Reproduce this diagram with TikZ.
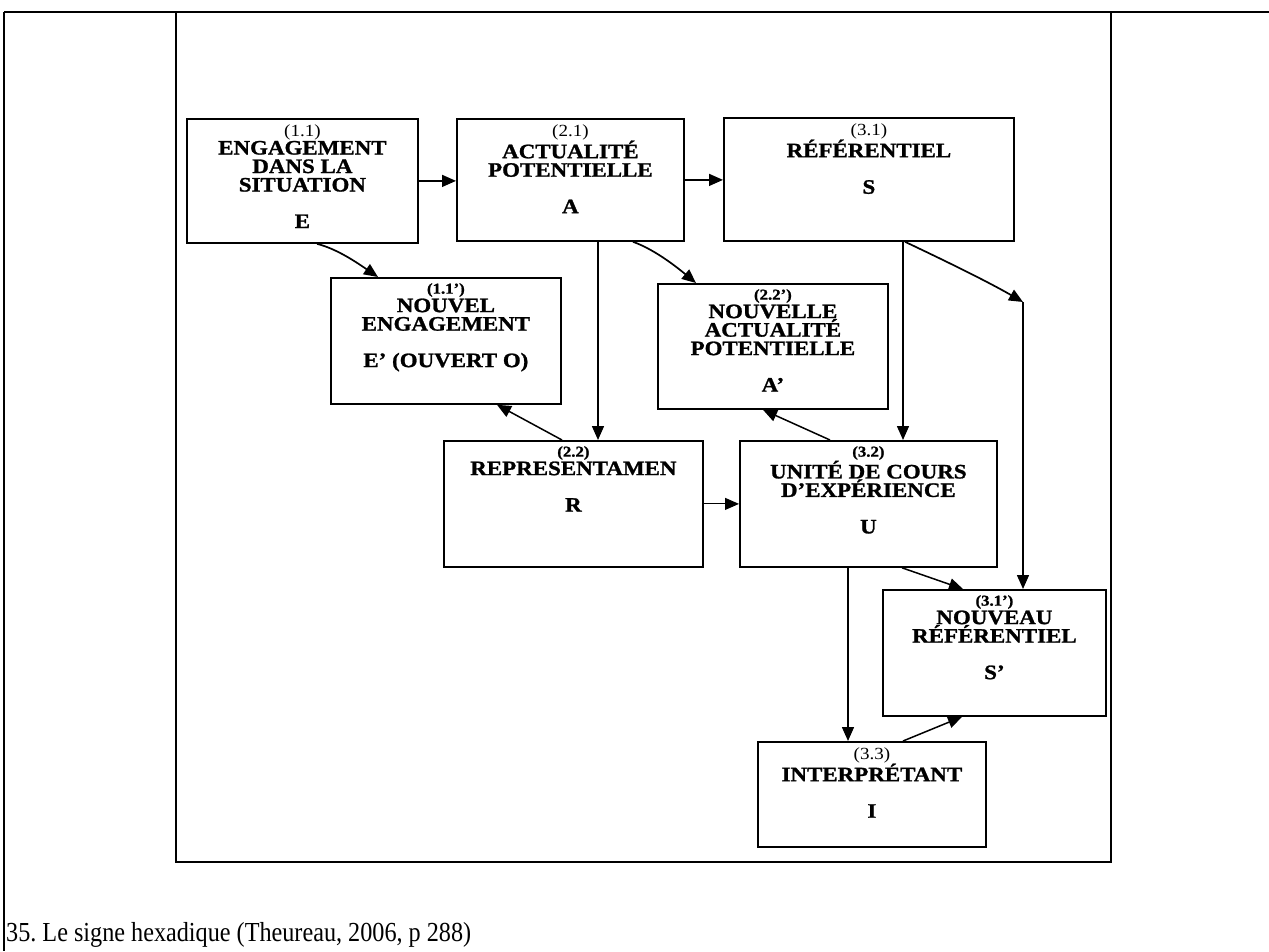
\documentclass[tikz,border=0pt]{standalone}
\usepackage{fontspec}
\setmainfont{Liberation Serif}
\newfontfamily\boxfont[FakeStretch=1.12, BoldFeatures={FakeBold=1.2}]{Liberation Serif}
\newfontfamily\capfont[FakeStretch=0.88]{Liberation Serif}
\usepackage{tikz}
\usetikzlibrary{arrows.meta}

\newcommand\regnum[1]{{\mdseries\fontsize{17}{18}\selectfont #1}}
\newcommand\boldnum[1]{{\fontsize{15}{18}\selectfont #1}}

\begin{document}
\begin{tikzpicture}[x=1pt, y=-1pt,
      sign/.style={draw, line width=1.8pt, inner sep=0pt, anchor=north west},
      lbl/.style={anchor=north, inner sep=0pt, align=center,
                  font=\boxfont\bfseries\fontsize{20.5}{18.5}\selectfont},
      arr/.style={-{Triangle[length=14pt, width=12pt]}, line width=1.5pt},
      wave/.style={arr, line width=1.7pt},
    ]
    \useasboundingbox (0,0) rectangle (1269,951);
    % ── cadre ──
    \draw[line width=2.5pt] (4,12) -- (1269,12);
    \draw[line width=1.5pt] (4,12) -- (4,951);
    \draw[line width=2.2pt] (176,12) rectangle (1111,862);
    % ── signes ──
    \node[sign, minimum width=231pt, minimum height=124pt] (E)  at (186,118) {};
    \node[sign, minimum width=227pt, minimum height=122pt] (A)  at (456,118) {};
    \node[sign, minimum width=290pt, minimum height=123pt] (S)  at (723,117) {};
    \node[sign, minimum width=230pt, minimum height=126pt] (Ep) at (330,277) {};
    \node[sign, minimum width=230pt, minimum height=125pt] (Ap) at (657,283) {};
    \node[sign, minimum width=259pt, minimum height=126pt] (R)  at (443,440) {};
    \node[sign, minimum width=257pt, minimum height=126pt] (U)  at (739,440) {};
    \node[sign, minimum width=223pt, minimum height=126pt] (Sp) at (882,589) {};
    \node[sign, minimum width=228pt, minimum height=105pt] (I)  at (757,741) {};
    % ── textes ──
    \node[lbl] (Et)  at ([yshift=-6pt]E.north)  {\regnum{(1.1)}\\ENGAGEMENT\\DANS LA\\SITUATION\\[18pt]E};
    \node[lbl] (At)  at ([yshift=-6pt]A.north)  {\regnum{(2.1)}\\ACTUALITÉ\\POTENTIELLE\\[18pt]A};
    \node[lbl] (St)  at ([yshift=-6pt]S.north)  {\regnum{(3.1)}\\RÉFÉRENTIEL\\[18pt]S};
    \node[lbl] (Ept) at ([yshift=-6pt]Ep.north) {\boldnum{(1.1’)}\\NOUVEL\\ENGAGEMENT\\[18pt]E’ (OUVERT O)};
    \node[lbl] (Apt) at ([yshift=-6pt]Ap.north) {\boldnum{(2.2’)}\\NOUVELLE\\ACTUALITÉ\\POTENTIELLE\\[18pt]A’};
    \node[lbl] (Rt)  at ([yshift=-6pt]R.north)  {\boldnum{(2.2)}\\REPRESENTAMEN\\[18pt]R};
    \node[lbl] (Ut)  at ([yshift=-6pt]U.north)  {\boldnum{(3.2)}\\UNITÉ DE COURS\\D’EXPÉRIENCE\\[18pt]U};
    \node[lbl] (Spt) at ([yshift=-6pt]Sp.north) {\boldnum{(3.1’)}\\NOUVEAU\\RÉFÉRENTIEL\\[18pt]S’};
    \node[lbl] (It)  at ([yshift=-6pt]I.north)  {\regnum{(3.3)}\\INTERPRÉTANT\\[18pt]I};
    % ── liaisons ──
    \draw[arr] (E.east) -- (E.east -| A.west);
    \draw[arr] (A.east) -- (A.east -| S.west);
    \draw[arr, line width=1pt] (R.east) -- (U.west);
    \draw[wave] (317,0 |- E.south) .. controls (337,249) and (356,262) .. (378,0 |- Ep.north);
    \draw[wave] (633,0 |- A.south) .. controls (653,249) and (673,264) .. (696,0 |- Ap.north);
    \coordinate (K) at (1023,302);
    \draw[wave] (905,0 |- S.south) .. controls (935,256) and (985,280) .. (K);
    \draw[arr] (K) -- (K |- Sp.north);
    \draw[arr] (598,0 |- A.south) -- (598,0 |- R.north);
    \draw[arr] (903,0 |- S.south) -- (903,0 |- U.north);
    \draw[arr] (562,0 |- R.north) -- (497,0 |- Ep.south);
    \draw[arr] (830,0 |- U.north) -- (763,0 |- Ap.south);
    \draw[arr] (902,0 |- U.south) -- (963,0 |- Sp.north);
    \draw[arr] (848,0 |- U.south) -- (848,0 |- I.north);
    \draw[arr] (903,0 |- I.north) -- (962,0 |- Sp.south);
    % ── légende ──
    \node[anchor=west, inner sep=0pt, font=\capfont\fontsize{27.5}{30}\selectfont] (cap) at (6,935)
      {35.\ Le signe hexadique (Theureau, 2006, p 288)};
  \end{tikzpicture}
\end{document}
